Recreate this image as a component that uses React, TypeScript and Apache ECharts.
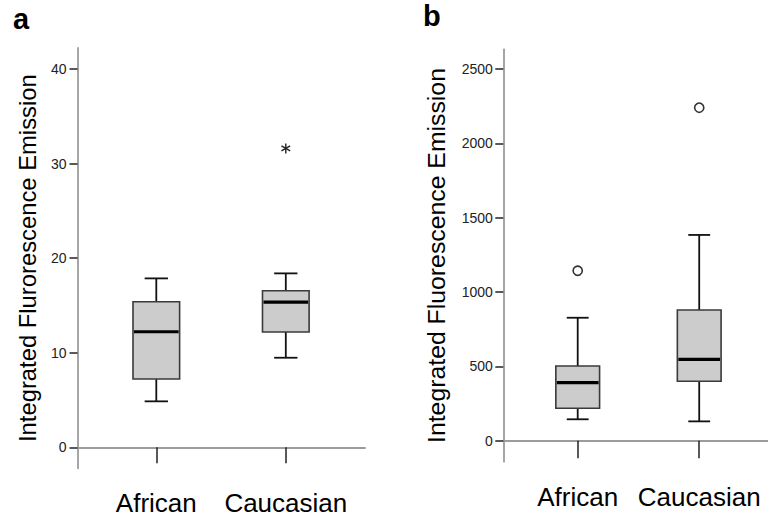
import React, { useEffect, useRef } from "react";
import * as echarts from "echarts";

const categories = ["African", "Caucasian"];
// [low whisker, Q1, median, Q3, high whisker]
const boxA = [
  [4.86, 7.22, 12.22, 15.39, 17.86],
  [9.47, 12.19, 15.36, 16.55, 18.39],
];
// [category position (1-based), value]
const outliersA = [[2, 31.6]];
const boxB = [
  [144, 218, 390, 502, 827],
  [130, 400, 547, 879, 1384],
];
const outliersB = [
  [1, 1143],
  [2, 2240],
];
const yTicksA = [0, 10, 20, 30, 40];
const yTicksB = [0, 500, 1000, 1500, 2000, 2500];
const xTicks = [1, 2];

const FONT = "'Liberation Sans', Arial, sans-serif";
const BOX_W = 0.36;
const CAP_W = 0.18;

const renderBox = (params: any, api: any) => {
  const x = api.value(0);
  const low = api.coord([x, api.value(1)]);
  const q1 = api.coord([x, api.value(2)]);
  const med = api.coord([x, api.value(3)]);
  const q3 = api.coord([x, api.value(4)]);
  const high = api.coord([x, api.value(5)]);
  const bw = api.size([BOX_W, 0])[0];
  const cw = api.size([CAP_W, 0])[0];
  const cx = low[0];
  const wStyle = { stroke: "#111", lineWidth: 1.8 };
  return {
    type: "group",
    children: [
      { type: "line", shape: { x1: cx, y1: q3[1], x2: cx, y2: high[1] }, style: wStyle },
      { type: "line", shape: { x1: cx, y1: low[1], x2: cx, y2: q1[1] }, style: wStyle },
      { type: "line", shape: { x1: cx - cw / 2, y1: high[1], x2: cx + cw / 2, y2: high[1] }, style: wStyle },
      { type: "line", shape: { x1: cx - cw / 2, y1: low[1], x2: cx + cw / 2, y2: low[1] }, style: wStyle },
      {
        type: "rect",
        shape: { x: cx - bw / 2, y: q3[1], width: bw, height: q1[1] - q3[1] },
        style: { fill: "#cccccc", stroke: "#3a3a3a", lineWidth: 1.6 },
      },
      {
        type: "line",
        shape: { x1: cx - bw / 2 + 1, y1: med[1], x2: cx + bw / 2 - 1, y2: med[1] },
        style: { stroke: "#000", lineWidth: 3.2 },
      },
    ],
  };
};

const renderStar = (params: any, api: any) => {
  const p = api.coord([api.value(0), api.value(1)]);
  const r = 5;
  const children: any[] = [];
  for (let k = 0; k < 3; k++) {
    const a = Math.PI / 2 + (k * Math.PI) / 3;
    children.push({
      type: "line",
      shape: { x1: p[0] - r * Math.cos(a), y1: p[1] - r * Math.sin(a), x2: p[0] + r * Math.cos(a), y2: p[1] + r * Math.sin(a) },
      style: { stroke: "#222", lineWidth: 1.4 },
    });
  }
  return { type: "group", children };
};

const renderCircle = (params: any, api: any) => {
  const p = api.coord([api.value(0), api.value(1)]);
  return {
    type: "circle",
    shape: { cx: p[0], cy: p[1], r: 4.6 },
    style: { fill: "#fff", stroke: "#333", lineWidth: 1.6 },
  };
};

const axisLineStyle = { color: "#9c9c9c", width: 1.8 };
const tickStyle = { color: "#222", width: 1.5 };

function xAxisCfg(gridIndex: number, min: number, max: number, tickLen: number) {
  return {
    type: "value",
    gridIndex,
    min,
    max,
    axisLine: { show: true, lineStyle: axisLineStyle },
    axisTick: { show: true, customValues: xTicks, length: tickLen, lineStyle: tickStyle },
    axisLabel: {
      customValues: xTicks,
      margin: 22,
      fontSize: 26,
      color: "#000",
      fontFamily: FONT,
      formatter: (v: number) => categories[Math.round(v) - 1] ?? "",
    },
    splitLine: { show: false },
  };
}

function yAxisCfg(
  gridIndex: number,
  min: number,
  max: number,
  ticks: number[],
  name: string,
  nameSize: number,
  nameGap: number,
  margin: number
) {
  return {
    type: "value",
    gridIndex,
    min,
    max,
    name,
    nameLocation: "middle",
    nameRotate: 90,
    nameGap,
    nameTextStyle: { fontSize: nameSize, color: "#000", fontFamily: FONT },
    axisLine: { show: true, lineStyle: axisLineStyle },
    axisTick: { show: true, customValues: ticks, length: 8, lineStyle: tickStyle },
    axisLabel: {
      customValues: ticks,
      margin,
      fontSize: 14,
      color: "#222",
      fontFamily: FONT,
      formatter: (v: number) => String(v),
    },
    splitLine: { show: false },
  };
}

export default function App() {
  const ref = useRef<HTMLDivElement>(null);
  useEffect(() => {
    if (!ref.current) return;
    const chart = echarts.init(ref.current, undefined, { renderer: "svg" });
    chart.setOption({
      animation: false,
      backgroundColor: "#fff",
      grid: [
        { left: 77.5, top: 48, width: 287.5, height: 420.3 },
        { left: 503.3, top: 49.3, width: 264.7, height: 412.4 },
      ],
      xAxis: [xAxisCfg(0, 0.3915, 2.6116, 16), xAxisCfg(1, 0.3877, 2.566, 17.5)],
      yAxis: [
        yAxisCfg(0, -2.22, 42.22, yTicksA, "Integrated Flurorescence Emission", 23.8, 38.5, 11),
        yAxisCfg(1, -141.3, 2632.7, yTicksB, "Integrated Fluorescence Emission", 24.8, 54, 10.5),
      ],
      graphic: [
        {
          type: "text",
          left: 13,
          top: 4,
          style: { text: "a", fontSize: 29, fontWeight: "bold", fontFamily: FONT, fill: "#000" },
        },
        {
          type: "text",
          left: 423,
          top: 1,
          style: { text: "b", fontSize: 29, fontWeight: "bold", fontFamily: FONT, fill: "#000" },
        },
      ],
      series: [
        {
          type: "custom",
          xAxisIndex: 0,
          yAxisIndex: 0,
          renderItem: renderBox,
          encode: { x: 0, y: [1, 2, 3, 4, 5] },
          data: boxA.map((b, i) => [i + 1, ...b]),
        },
        {
          type: "custom",
          xAxisIndex: 0,
          yAxisIndex: 0,
          renderItem: renderStar,
          encode: { x: 0, y: 1 },
          data: outliersA,
        },
        {
          type: "custom",
          xAxisIndex: 1,
          yAxisIndex: 1,
          renderItem: renderBox,
          encode: { x: 0, y: [1, 2, 3, 4, 5] },
          data: boxB.map((b, i) => [i + 1, ...b]),
        },
        {
          type: "custom",
          xAxisIndex: 1,
          yAxisIndex: 1,
          renderItem: renderCircle,
          encode: { x: 0, y: 1 },
          data: outliersB,
        },
      ],
    });
    return () => chart.dispose();
  }, []);
  return (
    <div
      ref={ref}
      style={{ position: "fixed", left: 0, top: 0, width: 768, height: 522, background: "#fff" }}
    />
  );
}
